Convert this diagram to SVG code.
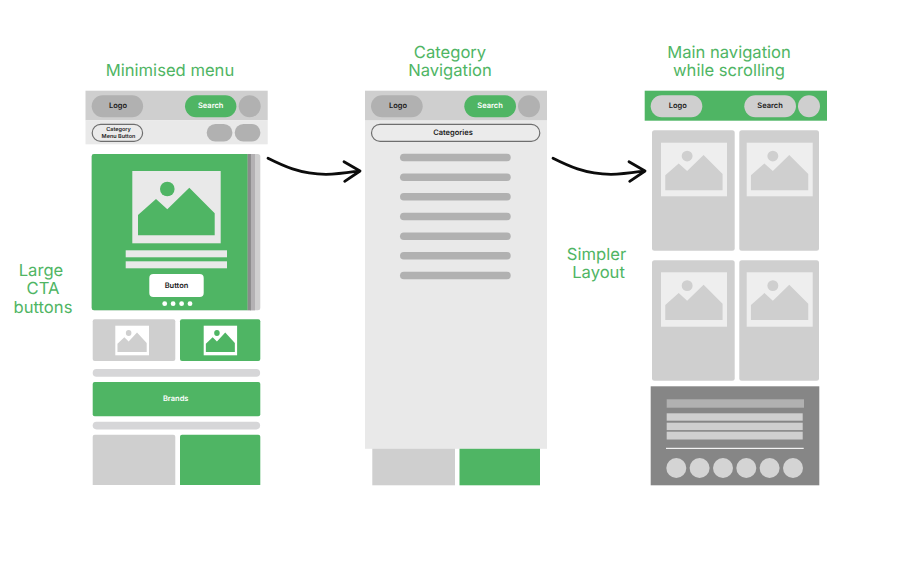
<svg xmlns="http://www.w3.org/2000/svg" xmlns:xlink="http://www.w3.org/1999/xlink" width="912" height="576" viewBox="0 0 912 576">
<style>
text{text-rendering:geometricPrecision}
.h{font-family:"Inter","Noto Sans",sans-serif;font-size:16.6px;fill:#4fb564;text-anchor:middle}
.t{font-family:"Inter","Noto Sans",sans-serif;font-size:7.5px;font-weight:600;text-anchor:middle}
.n{font-size:5.5px}
.d{fill:#1c1c1c}.w{fill:#fff}.g{fill:#4fb564}.l{fill:#cfcfcf}.m{fill:#b1b1b1}.p{fill:#e9e9e9}.s{fill:#d6d6d8}
.o{fill:#ebebeb;stroke:#6e6e6e;stroke-width:1.2}
.c{fill:none;stroke:#0c0c0c;stroke-width:2.8;stroke-linecap:round;stroke-linejoin:round}
</style>
<defs>
<g id="pic"><circle cx="35" cy="18" r="7.3"/><path d="M5.7 64.3V44L23.7 28 35 38.3 57 16.7 82.4 42.3V64.3Z"/></g>
<path id="arrow" d="M0 0C14 7 32 16 58 16C70 16 82 14 91 12.7M76 3.5L92 12.7L76.7 23"/>
</defs>
<rect width="912" height="576" fill="#fff"/>

<g id="title-minimised"><text class="h" x="170" y="76.2">Minimised menu</text></g>
<g id="title-category"><text class="h"><tspan x="450" y="58">Category</tspan><tspan x="450" y="76">Navigation</tspan></text></g>
<g id="title-main"><text class="h"><tspan x="729" y="58">Main navigation</tspan><tspan x="729" y="76">while scrolling</tspan></text></g>
<g id="label-cta"><text class="h"><tspan x="41" y="276">Large</tspan><tspan x="43" y="294">CTA</tspan><tspan x="43" y="312.5">buttons</tspan></text></g>
<g id="label-simpler"><text class="h"><tspan x="596.5" y="260">Simpler</tspan><tspan x="598.5" y="278">Layout</tspan></text></g>

<g id="screen-minimised">
<rect class="l" x="85.5" y="90.7" width="182.2" height="29.6"/>
<rect class="p" x="85.5" y="120.3" width="182.2" height="24"/>
<rect class="m" x="91.7" y="95.3" width="51.4" height="22" rx="11"/>
<text class="t d" x="118" y="108.2">Logo</text>
<rect class="g" x="185" y="95.3" width="51.4" height="22" rx="11"/>
<text class="t w" x="210.7" y="108.2">Search</text>
<circle class="m" cx="249.7" cy="106.3" r="11"/>
<rect class="o" x="92.2" y="124.4" width="50.4" height="17" rx="8.5"/>
<text class="t d n"><tspan x="118.5" y="131.4">Category</tspan><tspan x="118.5" y="138.2">Menu Button</tspan></text>
<rect class="m" x="206.7" y="124" width="25.7" height="17.5" rx="8.7"/>
<rect class="m" x="234.7" y="124" width="25.7" height="17.5" rx="8.7"/>

<rect class="l" x="91.7" y="154" width="168.6" height="156.3" rx="2.5"/>
<rect x="250" y="154" width="5" height="156.3" fill="#b3b1b3"/>
<path class="g" d="M94 154H247.7V310.3H94a2.3 2.3 0 0 1-2.3-2.3V156.3a2.3 2.3 0 0 1 2.3-2.3Z"/>
<rect x="247.7" y="154" width="3.2" height="156.3" fill="#8a8a8a"/>
<rect class="p" x="132.3" y="171" width="88.4" height="72.3"/>
<use href="#pic" x="132.3" y="171" class="g"/>
<rect class="p" x="125.7" y="250.3" width="101.3" height="7"/>
<rect class="p" x="125.7" y="261.3" width="101.3" height="7"/>
<rect class="w" x="149.3" y="274" width="54.4" height="23" rx="4"/>
<text class="t d" x="176.5" y="288.2">Button</text>
<g class="w"><circle cx="164.7" cy="303.7" r="2.4"/><circle cx="173.1" cy="303.7" r="2.4"/><circle cx="181.6" cy="303.7" r="2.4"/><circle cx="190" cy="303.7" r="2.4"/></g>

<rect class="l" x="92.7" y="319.3" width="82.6" height="41.7" rx="2"/>
<rect class="g" x="180" y="319.3" width="80.3" height="41.7" rx="2"/>
<rect class="w" x="115.3" y="325.7" width="33.7" height="29.6"/>
<use href="#pic" transform="translate(115.3 325.7) scale(.381 .41)" class="l"/>
<rect class="w" x="203.7" y="325.7" width="33.4" height="29.6"/>
<use href="#pic" transform="translate(203.7 325.7) scale(.378 .41)" class="g"/>
<rect class="s" x="92.7" y="369" width="167.4" height="7.7" rx="3.8"/>
<rect class="g" x="92.7" y="382" width="167.6" height="34.3" rx="2"/>
<text class="t w" x="175.7" y="401.3">Brands</text>
<rect class="s" x="92.7" y="421.7" width="167.4" height="7.7" rx="3.8"/>
<path class="l" d="M92.7 485V436.7a2 2 0 0 1 2-2H173.3a2 2 0 0 1 2 2V485Z"/>
<path class="g" d="M180 485V436.7a2 2 0 0 1 2-2H258.3a2 2 0 0 1 2 2V485Z"/>
</g>

<g id="screen-category">
<rect class="l" x="372.3" y="445" width="82.7" height="40.3"/>
<rect class="g" x="459.5" y="445" width="80.5" height="40.3"/>
<rect class="p" x="365" y="120.3" width="182" height="328.5"/>
<rect class="l" x="365" y="90.7" width="182" height="29.6"/>
<rect class="m" x="371" y="95.3" width="51.7" height="22" rx="11"/>
<text class="t d" x="398" y="108.2">Logo</text>
<rect class="g" x="464.3" y="95.3" width="51.7" height="22" rx="11"/>
<text class="t w" x="490" y="108.2">Search</text>
<circle class="m" cx="529" cy="106.3" r="11"/>
<rect class="o" x="371.5" y="124.4" width="168.3" height="17" rx="8.5"/>
<text class="t d" x="453" y="135.3">Categories</text>
<g class="m">
<rect x="400" y="153.7" width="110.7" height="7.6" rx="3.8"/>
<rect x="400" y="173.4" width="110.7" height="7.6" rx="3.8"/>
<rect x="400" y="193" width="110.7" height="7.6" rx="3.8"/>
<rect x="400" y="212.7" width="110.7" height="7.6" rx="3.8"/>
<rect x="400" y="232.4" width="110.7" height="7.6" rx="3.8"/>
<rect x="400" y="252" width="110.7" height="7.6" rx="3.8"/>
<rect x="400" y="271.7" width="110.7" height="7.6" rx="3.8"/>
</g>
</g>

<g id="screen-main">
<rect class="g" x="644.7" y="90.7" width="182.3" height="30"/>
<rect class="l" x="650.7" y="95.3" width="51.6" height="22" rx="11"/>
<text class="t d" x="677.7" y="108.2">Logo</text>
<rect class="l" x="744.3" y="95.3" width="51.7" height="22" rx="11"/>
<text class="t d" x="770" y="108.2">Search</text>
<circle class="l" cx="809" cy="106.3" r="11"/>
<g class="l">
<rect x="652" y="130.3" width="82.7" height="120.4" rx="2.5"/>
<rect x="739.3" y="130.3" width="79.7" height="120.4" rx="2.5"/>
<rect x="652" y="260.3" width="82.7" height="120.4" rx="2.5"/>
<rect x="739.3" y="260.3" width="79.7" height="120.4" rx="2.5"/>
</g>
<g fill="#eeeeee">
<rect x="661" y="142.7" width="66" height="53.6"/>
<rect x="746.7" y="142.7" width="66" height="53.6"/>
<rect x="661" y="272.3" width="66" height="54.4"/>
<rect x="746.7" y="272.3" width="66" height="54.4"/>
</g>
<g class="l">
<use href="#pic" transform="translate(661 142.7) scale(.747 .741)"/>
<use href="#pic" transform="translate(746.7 142.7) scale(.747 .741)"/>
<use href="#pic" transform="translate(661 272.3) scale(.747 .741)"/>
<use href="#pic" transform="translate(746.7 272.3) scale(.747 .741)"/>
</g>
<rect x="650.7" y="386.3" width="168.6" height="99" fill="#868686"/>
<rect class="m" x="666.7" y="399.3" width="137.3" height="8.4"/>
<g class="l">
<rect x="666.7" y="413.3" width="136" height="7.4"/>
<rect x="666.7" y="422.7" width="136" height="7.4"/>
<rect x="666.7" y="431.7" width="136" height="7.8"/>
</g>
<rect x="666" y="447.8" width="137.7" height="1.2" fill="#f2f2f2"/>
<g fill="#d4d4d4">
<circle cx="676.3" cy="468" r="10"/><circle cx="699.6" cy="468" r="10"/><circle cx="723" cy="468" r="10"/><circle cx="746.3" cy="468" r="10"/><circle cx="769.6" cy="468" r="10"/><circle cx="793" cy="468" r="10"/>
</g>
</g>

<g id="connectors">
<use href="#arrow" class="c" x="268" y="158.3"/>
<use href="#arrow" class="c" x="553" y="158.3"/>
</g>
</svg>
